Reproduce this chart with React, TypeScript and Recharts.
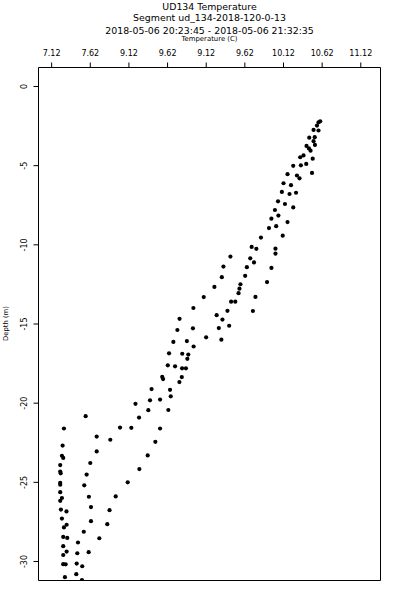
import React from 'react';
import { ScatterChart, Scatter, XAxis, YAxis, ReferenceArea } from 'recharts';

const temperature = [
  10.573, 10.595, 10.553, 10.573, 10.509, 10.453, 10.524, 10.509, 10.527, 10.418,
  10.449, 10.470, 10.498, 10.379, 10.336, 10.414, 10.345, 10.246, 10.489, 10.172,
  10.294, 10.327, 10.120, 10.217, 10.099, 10.198, 10.282, 10.049, 10.139, 10.246,
  10.009, 10.054, 9.963, 10.172, 10.025, 9.932, 10.110, 9.828, 9.708, 9.769,
  10.016, 10.016, 9.433, 9.690, 9.738, 9.343, 9.646, 9.964, 9.322, 9.624,
  9.563, 9.550, 9.538, 9.226, 9.907, 9.088, 9.442, 9.496, 9.757, 8.954,
  9.395, 9.724, 9.255, 9.330, 8.775, 8.747, 8.948, 9.283, 9.417, 9.316,
  9.119, 8.695, 8.870, 8.957, 8.639, 8.810, 8.888, 8.876, 8.623, 8.717,
  8.808, 8.857, 8.551, 8.562, 8.804, 8.773, 8.413, 8.652, 8.393, 8.523,
  8.661, 8.205, 8.371, 8.630, 8.251, 7.560, 7.279, 8.005, 8.151, 8.523,
  7.703, 7.879, 8.462, 7.262, 7.703, 7.253, 7.270, 7.620, 8.363, 7.231,
  7.231, 7.237, 7.573, 8.255, 7.231, 7.231, 7.542, 8.104, 7.231, 7.253,
  7.231, 7.602, 7.949, 7.240, 7.312, 7.629, 7.869, 7.253, 7.314, 7.279,
  7.629, 7.840, 7.536, 7.270, 7.322, 7.737, 7.461, 7.270, 7.452, 7.599,
  7.314, 7.270, 7.270, 7.301, 7.444, 7.516, 7.439, 7.292, 7.512,
];

const depth = [
  -2.26, -2.20, -2.47, -2.78, -2.74, -3.23, -3.20, -3.45, -3.69, -3.75,
  -3.91, -4.05, -4.56, -4.35, -4.47, -4.89, -4.98, -5.01, -5.46, -5.54,
  -5.62, -5.80, -6.11, -6.23, -6.66, -6.79, -6.71, -7.25, -7.42, -7.64,
  -7.80, -8.15, -8.35, -8.56, -8.82, -8.94, -9.42, -9.54, -10.13, -10.25,
  -10.24, -10.55, -10.74, -10.85, -11.11, -11.37, -11.41, -11.46, -12.04, -11.96,
  -12.49, -12.77, -13.05, -12.66, -12.35, -13.30, -13.59, -13.59, -13.29, -13.99,
  -14.17, -14.18, -14.44, -14.72, -14.67, -15.38, -15.27, -15.26, -15.11, -15.99,
  -15.84, -16.13, -16.08, -16.42, -16.85, -16.88, -16.93, -17.20, -17.61, -17.67,
  -17.80, -17.80, -18.34, -18.48, -18.35, -18.67, -19.11, -19.16, -19.82, -19.77,
  -19.57, -20.04, -20.44, -20.43, -20.91, -20.82, -21.60, -21.54, -21.56, -21.60,
  -22.11, -22.31, -22.44, -22.68, -23.05, -23.32, -23.46, -23.78, -23.30, -23.91,
  -24.32, -24.43, -24.51, -24.16, -25.03, -25.15, -25.19, -25.00, -25.62, -25.99,
  -26.17, -25.91, -25.89, -26.72, -26.84, -26.56, -26.76, -27.29, -27.68, -27.85,
  -27.45, -27.64, -28.12, -28.45, -28.51, -28.53, -28.80, -29.03, -29.48, -29.41,
  -29.37, -29.59, -30.17, -30.18, -30.13, -30.30, -30.80, -30.99, -31.17,
];

const xTickValues = [7.12, 7.62, 8.12, 8.62, 9.12, 9.62, 10.12, 10.62, 11.12];
const xTickLabels = ['7.12', '7.62', '9.12', '9.62', '9.12', '9.62', '10.12', '10.62', '11.12'];
const yTickValues = [0, -5, -10, -15, -20, -25, -30];
const yTickLabels = ['0', '-5', '-10', '-15', '-20', '-25', '-30'];
const xDomain = [6.95, 11.375];
const yDomain = [-31.2, 1.2];

const titleLines = [
  'UD134 Temperature',
  'Segment ud_134-2018-120-0-13',
  '2018-05-06 20:23:45 - 2018-05-06 21:32:35',
];
const xAxisTitle = 'Temperature (C)';
const yAxisTitle = 'Depth (m)';

const data = temperature.map((t, i) => ({ t, d: depth[i] }));

const FONT = 'DejaVu Sans, Arial, sans-serif';

const XTick = (props: any) => {
  const { x, index } = props;
  return (
    <text x={x} y={56} textAnchor="middle" fontSize={8} fontFamily={FONT} fill="#000">
      {xTickLabels[index]}
    </text>
  );
};

const YTick = (props: any) => {
  const { y, index } = props;
  const bx = 26.7;
  return (
    <text
      x={bx}
      y={y}
      textAnchor="middle"
      fontSize={8}
      fontFamily={FONT}
      fill="#000"
      transform={`rotate(-90, ${bx}, ${y})`}
    >
      {yTickLabels[index]}
    </text>
  );
};

const Dot = (props: any) => {
  const { cx, cy } = props;
  return <circle cx={cx} cy={cy} r={2.1} fill="#000" />;
};

export default function App() {
  const titleY = [10, 21, 34];
  return (
    <div style={{ position: 'absolute', left: 0, top: 0, width: 400, height: 600, background: '#fff' }}>
      <ScatterChart
        width={400}
        height={600}
        margin={{ top: 37.5, right: 19.5, bottom: 19.5, left: 0.5 }}
      >
        <XAxis
          type="number"
          dataKey="t"
          orientation="top"
          domain={xDomain}
          ticks={xTickValues}
          height={30}
          axisLine={false}
          tickLine={{ stroke: '#000' }}
          tickSize={5}
          tick={<XTick />}
          interval={0}
          allowDataOverflow
        />
        <YAxis
          type="number"
          dataKey="d"
          domain={yDomain}
          ticks={yTickValues}
          width={38}
          axisLine={false}
          tickLine={{ stroke: '#000' }}
          tickSize={5}
          tick={<YTick />}
          interval={0}
          allowDataOverflow
        />
        <ReferenceArea
          x1={xDomain[0]}
          x2={xDomain[1]}
          y1={yDomain[0]}
          y2={yDomain[1]}
          fill="none"
          fillOpacity={0}
          stroke="#000"
          strokeWidth={1}
          ifOverflow="visible"
        />
        <Scatter data={data} shape={<Dot />} isAnimationActive={false} />
      </ScatterChart>
      <svg
        width={400}
        height={600}
        style={{ position: 'absolute', left: 0, top: 0, pointerEvents: 'none' }}
      >
        {titleLines.map((line, i) => (
          <text key={i} x={209.5} y={titleY[i]} textAnchor="middle" fontSize={9.4} fontFamily={FONT} fill="#000">
            {line}
          </text>
        ))}
        <text x={209.5} y={41} textAnchor="middle" fontSize={6.9} fontFamily={FONT} fill="#000">
          {xAxisTitle}
        </text>
        <text
          x={7.8}
          y={323.5}
          textAnchor="middle"
          fontSize={6.8}
          fontFamily={FONT}
          fill="#000"
          transform="rotate(-90, 7.8, 323.5)"
        >
          {yAxisTitle}
        </text>
      </svg>
    </div>
  );
}
